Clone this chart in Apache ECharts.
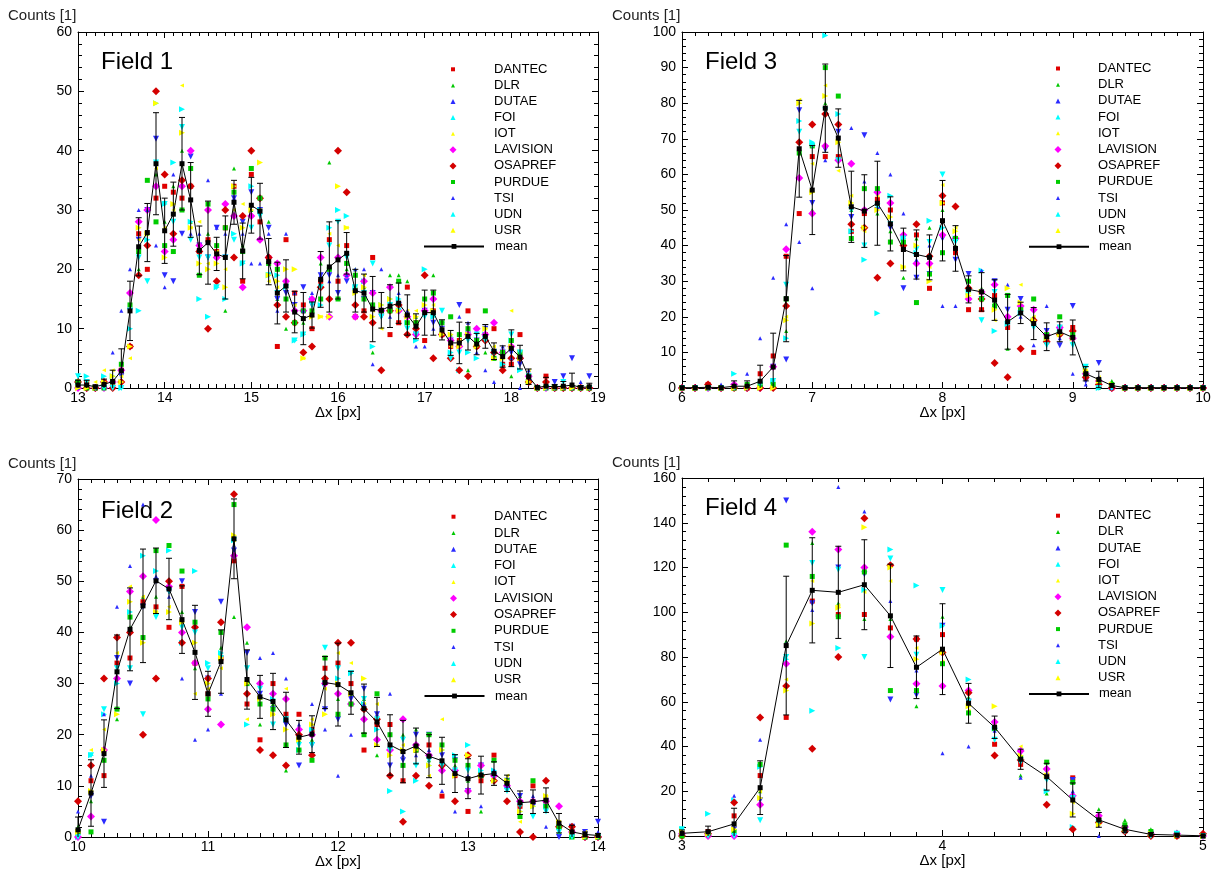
<!DOCTYPE html>
<html><head><meta charset="utf-8">
<script src="https://cdn.jsdelivr.net/npm/echarts@6/dist/echarts.min.js"></script>
<style>html,body{margin:0;padding:0;background:#fff}#c{width:1213px;height:875px}</style>
</head><body><div id="c"></div>
<script>
// ---------------- DATA ----------------
const SERIES = ['DANTEC','DLR','DUTAE','FOI','IOT','LAVISION','OSAPREF','PURDUE','TSI','UDN','USR'];
const MEAN_NAME = 'mean';
const Y_NAME = 'Counts [1]';
const X_NAME = '\u0394x [px]';
const TITLES = ['Field 1','Field 3','Field 2','Field 4'];

// Field 1
const F1_X = [13.0,13.1,13.2,13.3,13.4,13.5,13.6,13.7,13.8,13.9,14.0,14.1,14.2,14.3,14.4,14.5,14.6,14.7,14.8,14.9,
  15.0,15.1,15.2,15.3,15.4,15.5,15.6,15.7,15.8,15.9,16.0,16.1,16.2,16.3,16.4,16.5,16.6,16.7,16.8,16.9,
  17.0,17.1,17.2,17.3,17.4,17.5,17.6,17.7,17.8,17.9,18.0,18.1,18.2,18.3,18.4,18.5,18.6,18.7,18.8,18.9];
const F1_MEAN = [0.5,0.5,0.2,0.6,1.1,2.9,13.0,23.8,26.2,37.8, 26.5,29.3,37.8,31.7,23.2,24.5,22.6,22.0,31.3,23.1,
  30.8,29.8,21.3,16.0,17.2,12.8,11.7,12.3,18.3,20.4, 21.6,22.7,16.4,16.0,13.3,13.1,13.8,14.3,12.3,10.4,
  12.7,12.7,9.8,7.6,7.6,8.7,7.4,8.7,6.2,5.3, 6.7,5.2,1.9,0.1,0.3,0.2,0.3,0.5,0.1,0.2];
const F1_ERR = [0.8,0.8,0.3,0.9,1.9,3.7,5.0,4.9,4.9,8.6, 5.5,5.4,7.8,6.3,4.1,7.0,2.8,7.0,3.7,4.7,
  4.7,4.7,3.9,5.2,4.4,3.5,4.4,2.2,4.7,7.6, 6.6,3.5,3.6,3.2,5.5,3.0,3.6,3.4,3.4,2.1,
  3.8,3.8,1.7,2.1,3.5,2.3,1.8,2.0,1.4,1.8, 3.1,2.0,1.3,0.2,1.5,0.4,0.8,2.0,0.3,0.6];
// rows: one per bin, columns in SERIES order
const F1_COUNTS = [
[1,0,0,1,0,0,1,1,0,2,0],[1,0,0,2,1,0,0,0,1,1,0],[0,0,0,0,1,0,0,0,0,0,0],[1,0,0,2,3,0,1,0,1,0,1],
[1,1,0,2,3,1,0,1,6,0,2],[3,4,2,0,2,3,1,4,13,0,1],[7,14,13,10,5,16,7,14,20,13,7],[26,20,25,13,25,28,19,23,30,22,27],
[20,26,30,25,26,30,24,35,30,18,26],[32,36,42,48,37,34,50,28,24,38,48],[34,28,19,31,27,23,36,24,17,31,22],
[33,34,18,38,30,25,26,23,36,28,31],[32,40,26,47,51,34,35,30,38,44,43],[34,28,39,28,27,40,34,37,26,25,27],
[23,24,24,15,28,24,23,19,26,22,21],[25,26,22,12,21,30,10,31,35,22,20],[23,22,27,17,23,22,18,24,27,17,21],
[27,13,22,15,20,31,30,27,26,22,17],[34,37,32,26,30,29,22,33,32,25,34],[18,24,28,21,31,17,29,23,26,21,27],
[36,30,33,34,29,29,40,37,21,27,30],[28,32,30,30,30,25,32,32,21,29,38],[22,28,27,19,18,22,22,21,26,19,19],
[7,15,15,19,17,21,14,20,13,16,18],[25,10,16,17,18,18,12,15,26,17,20],[16,13,14,8,14,13,11,11,16,8,20],
[14,11,17,9,5,13,6,13,13,9,5],[10,13,14,15,13,15,7,13,16,14,12],[18,21,19,14,12,22,17,15,19,17,12],
[25,38,19,27,26,12,15,20,18,24,12],[18,22,16,30,24,22,40,15,19,28,34],[24,20,18,29,27,19,33,21,19,22,27],
[12,20,16,17,17,12,14,19,20,17,16],[13,17,15,18,19,18,12,15,20,16,17],[22,6,16,7,13,16,11,14,4,21,12],
[13,13,12,14,10,13,3,13,20,12,14],[9,19,13,15,14,17,13,13,12,14,15],[11,19,14,15,13,13,14,18,16,13,13],
[17,18,12,11,13,12,9,11,13,10,12],[11,12,9,8,13,9,10,11,7,9,12],[8,15,13,20,13,13,19,15,7,12,14],
[13,19,11,12,14,15,5,16,10,12,13],[9,10,10,11,10,9,9,11,10,13,9],[7,9,8,6,7,8,5,12,8,5,9],
[8,9,14,3,8,7,3,9,12,6,7],[13,3,9,6,9,9,2,10,11,8,9],[7,8,8,5,8,10,7,8,6,9,7],
[9,6,10,9,10,9,8,13,3,8,10],[10,5,6,6,7,11,6,5,1,6,5],[4,6,6,4,5,6,3,6,7,5,5],
[4,2,6,8,13,7,5,8,5,9,7],[9,5,4,3,6,5,5,6,0,6,5],[2,2,1,1,3,2,1,2,3,2,1],
[0,0,0,0,0,0,0,0,0,0,0],[2,0,0,0,0,0,1,0,0,0,0],[0,0,1,0,0,0,0,0,0,0,0],
[0,0,2,0,0,0,0,0,0,1,0],[0,0,5,0,0,0,0,0,0,0,0],[0,0,0,0,0,0,0,0,1,0,0],[0,0,2,0,0,0,0,0,0,0,0]];

// Field 3
const F3_X = [6.0,6.1,6.2,6.3,6.4,6.5,6.6,6.7,6.8,6.9,7.0,7.1,7.2,7.3,7.4,7.5,7.6,7.7,7.8,7.9,
  8.0,8.1,8.2,8.3,8.4,8.5,8.6,8.7,8.8,8.9,9.0,9.1,9.2,9.3,9.4,9.5,9.6,9.7,9.8,9.9,10.0];
const F3_MEAN = [0.1,0.1,0.2,0.1,0.5,0.5,1.9,5.9,25.1,67.2, 55.6,78.6,70.2,50.9,49.7,51.9,46.1,38.9,37.5,36.7,
  47.0,39.2,27.7,27.0,24.7,18.6,21.1,18.1,14.4,15.8, 14.2,4.0,2.4,0.7,0.1,0.1,0.1,0.1,0.1,0.1,0.1];
const F3_ERR = [0.2,0.2,0.3,0.2,1.5,1.5,4.5,9.5,12.1,13.6, 12.5,12.4,8.2,10.0,10.2,11.8,7.6,6.0,6.9,6.3,
  11.3,6.4,3.8,5.4,5.7,7.7,3.0,4.5,3.9,2.8, 4.9,2.0,2.3,0.5,0.1,0.1,0.1,0.1,0.1,0.1,0.1];
const F3_COUNTS = [
[0,0,0,0,0,0,0,0,0,0,0],[0,0,0,0,0,0,0,0,0,0,0],[1,0,0,0,0,0,1,0,0,0,0],[0,0,0,0,0,0,0,0,1,0,0],
[0,0,0,4,0,1,0,0,0,0,0],[0,0,0,0,0,0,0,1,4,0,0],[4,0,0,0,1,0,0,1,14,1,0],[9,0,6,2,0,6,0,1,31,2,0],
[37,16,8,14,20,39,23,25,46,29,19],[49,66,78,75,81,59,69,66,41,72,80],[65,50,52,69,63,49,74,68,28,68,55],
[65,80,67,99,85,68,77,90,64,78,82],[65,70,72,77,61,64,74,82,70,64,69],[44,50,48,44,54,63,46,42,73,50,52],
[49,50,71,36,44,50,45,56,58,40,45],[53,49,50,21,54,55,31,56,66,51,50],[50,44,45,54,35,52,35,41,60,46,48],
[39,31,28,42,34,43,40,41,49,42,34],[43,42,31,38,46,35,46,24,36,39,40],[28,45,32,47,34,35,37,32,40,41,30],
[52,50,42,45,57,43,54,38,23,60,52],[38,40,36,42,45,42,51,42,23,41,44],[22,28,32,27,27,25,28,30,28,27,26],
[22,28,25,33,25,27,25,25,33,19,27],[26,24,30,16,19,29,7,23,25,27,22],[17,11,22,18,19,20,3,26,29,18,28],
[22,22,25,21,29,23,11,22,20,21,24],[10,20,18,19,20,22,19,25,12,17,19],[13,14,16,14,15,15,13,15,23,12,14],
[17,16,12,16,15,17,15,20,14,17,15],[17,13,23,14,15,14,16,15,4,12,14],[3,5,2,6,5,4,3,4,1,6,5],
[1,0,7,0,3,2,1,2,3,0,2],[0,2,0,0,1,0,0,1,0,0,1],[0,0,0,0,0,0,0,0,0,0,0],[0,0,0,0,0,0,0,0,0,0,0],
[0,0,0,0,0,0,0,0,0,0,0],[0,0,0,0,0,0,0,0,0,0,0],[0,0,0,0,0,0,0,0,0,0,0],[0,0,0,0,0,0,0,0,0,0,0],
[0,0,0,0,0,0,0,0,0,0,0]];

// Field 2
const F2_X = [10.0,10.1,10.2,10.3,10.4,10.5,10.6,10.7,10.8,10.9,11.0,11.1,11.2,11.3,11.4,11.5,11.6,11.7,11.8,11.9,
  12.0,12.1,12.2,12.3,12.4,12.5,12.6,12.7,12.8,12.9,13.0,13.1,13.2,13.3,13.4,13.5,13.6,13.7,13.8,13.9,14.0];
const F2_MEAN = [1.4,8.6,16.3,32.3,40.6,45.2,50.1,48.5,42.5,36.1, 28.0,34.3,58.3,30.8,27.4,26.5,22.9,19.5,20.1,30.2,
  29.8,28.2,25.1,22.5,18.0,16.7,17.8,15.8,14.9,12.4, 11.4,12.1,12.4,10.5,6.7,6.9,7.2,2.7,1.0,0.5,0.3];
const F2_ERR = [2.5,6.5,6.6,7.2,8.1,11.1,6.4,6.0,6.6,9.2, 4.4,6.2,7.8,5.8,4.2,5.5,5.4,3.3,3.6,5.1,
  8.1,4.2,4.8,4.8,5.9,6.1,3.5,4.2,4.6,3.7, 3.9,3.7,2.3,1.6,2.3,2.3,2.4,1.9,1.3,0.5,0.4];
const F2_COUNTS = [
[1,2,1,0,1,0,7,1,5,0,1],[11,7,8,16,17,4,14,1,12,16,9],[12,17,3,24,21,17,31,15,24,25,17],
[34,23,35,30,36,31,39,25,45,33,24],[35,41,30,44,49,48,40,43,53,33,46],[46,47,45,55,47,51,20,39,65,24,38],
[45,47,50,52,44,62,31,56,51,43,44],[41,49,48,56,45,49,50,57,47,48,44],[49,44,50,38,42,40,38,52,31,41,42],
[34,33,44,52,28,34,41,42,19,40,38],[28,25,31,34,29,25,31,27,21,33,30],[35,37,46,36,33,22,42,40,28,35,35],
[54,43,56,58,58,55,67,65,57,58,59],[26,38,36,22,23,41,28,30,31,33,30],[19,22,28,27,26,30,17,26,35,29,27],
[30,26,25,27,24,28,16,25,36,22,24],[24,13,22,23,29,27,14,18,31,23,21],[24,19,14,17,20,21,20,17,22,18,19],
[21,19,18,21,23,20,16,15,26,18,22],[33,35,25,30,29,30,31,35,21,37,24],[34,27,23,31,36,28,38,24,12,33,30],
[30,28,27,32,34,26,38,26,20,32,28],[17,27,29,26,26,23,25,20,26,27,31],[22,16,24,21,26,19,23,28,24,23,18],
[22,18,14,9,20,17,12,20,28,17,16],[11,20,15,5,18,23,3,14,16,19,17],[17,21,20,11,12,18,12,17,16,14,17],
[18,15,20,14,12,16,10,20,17,15,14],[8,14,16,17,23,13,14,18,9,14,17],[12,14,15,16,13,13,7,15,5,13,12],
[5,11,9,18,16,9,16,14,12,13,16],[11,5,14,13,14,14,12,12,6,12,12],[16,13,12,13,12,12,11,15,13,12,11],
[10,10,11,10,12,10,7,11,10,9,11],[6,8,8,5,3,7,1,4,7,6,5],[10,7,6,6,7,7,0,11,8,4,6],
[7,6,7,6,8,7,11,6,2,5,8],[2,1,0,2,3,6,2,2,3,1,3],[1,0,2,0,1,1,2,0,1,0,1],
[0,0,1,0,1,0,0,0,1,0,0],[0,0,3,0,0,0,0,0,1,0,0]];

// Field 4
const F4_X = [3.0,3.1,3.2,3.3,3.4,3.5,3.6,3.7,3.8,3.9,4.0,4.1,4.2,4.3,4.4,4.5,4.6,4.7,4.8,4.9,5.0];
const F4_MEAN = [1.2,1.9,5.4,21.6,85.1,109.8,108.9,112.3,98.4,75.4, 83.5,59.3,48.6,34.3,26.5,16.1,7.2,3.0,0.7,0.4,0.1];
const F4_ERR = [1.5,2.5,7.0,12.0,31.0,23.5,20.6,20.1,23.1,14.0, 20.3,8.9,5.0,4.5,6.0,7.6,3.3,1.5,0.8,0.5,0.2];
const F4_COUNTS = [
[1,0,0,3,1,1,0,0,1,3,2],[2,1,1,10,2,0,1,1,2,0,1],[9,2,3,16,5,0,15,2,18,0,3],
[27,20,16,31,20,14,53,32,43,7,17],[53,87,150,79,70,77,67,130,86,80,65],[105,131,104,56,114,136,39,116,101,122,95],
[99,104,120,84,103,128,80,98,156,119,102],[99,97,117,110,109,120,142,118,145,80,138],[93,97,61,128,114,89,121,65,105,124,120],
[88,58,63,112,84,68,88,65,74,81,79],[90,98,94,94,78,67,82,77,37,110,82],[60,62,60,70,56,65,64,55,40,60,58],
[41,52,47,48,50,51,36,48,47,43,58],[32,27,37,35,40,38,34,35,26,33,36],[27,19,29,20,28,30,14,33,28,25,27],
[26,24,25,4,15,18,3,24,20,17,10],[7,12,5,7,8,9,6,7,0,6,5],[3,7,2,3,3,4,2,5,3,2,3],
[1,3,1,1,0,1,0,2,1,0,1],[0,2,0,1,0,1,0,1,0,1,0],[0,0,0,0,0,0,1,0,0,0,0]];

// ---------------- STYLE / LAYOUT ----------------
const FONT = 'Liberation Sans, Arial, Helvetica, sans-serif';
const STYLE = {
  DANTEC:  {symbol:'rect',     size:5, rot:0,   color:'#e00000'},
  DLR:     {symbol:'triangle', size:4, rot:0,   color:'#00c800'},
  DUTAE:   {symbol:'triangle', size:6, rot:180, color:'#2b2bff'},
  FOI:     {symbol:'triangle', size:6, rot:-90, color:'#00ffff'},
  IOT:     {symbol:'triangle', size:4, rot:90,  color:'#ffff00'},
  LAVISION:{symbol:'diamond',  size:8, rot:0,   color:'#ff00ff'},
  OSAPREF: {symbol:'diamond',  size:8, rot:0,   color:'#d40000'},
  PURDUE:  {symbol:'rect',     size:5, rot:0,   color:'#00cc00'},
  TSI:     {symbol:'triangle', size:4, rot:0,   color:'#2b2bff'},
  UDN:     {symbol:'triangle', size:6, rot:180, color:'#00ffff'},
  USR:     {symbol:'triangle', size:6, rot:-90, color:'#ffff00'}
};

const PANELS = [
  {x:F1_X, mean:F1_MEAN, err:F1_ERR, counts:F1_COUNTS, xmin:13, xmax:19, ymax:60, yint:10,
   grid:{left:78, top:32, width:520, height:356}, leg:{cx:453, tx:494, cy0:69.3, dy:16.1},
   title:[101,50], ylab:[8,8]},
  {x:F3_X, mean:F3_MEAN, err:F3_ERR, counts:F3_COUNTS, xmin:6, xmax:10, ymax:100, yint:10,
   grid:{left:682, top:32, width:521, height:356}, leg:{cx:1058, tx:1098, cy0:68.5, dy:16.2},
   title:[705,50], ylab:[612,8]},
  {x:F2_X, mean:F2_MEAN, err:F2_ERR, counts:F2_COUNTS, xmin:10, xmax:14, ymax:70, yint:10,
   grid:{left:78, top:479, width:520, height:358}, leg:{cx:453.5, tx:494, cy0:516.7, dy:16.3},
   title:[101,499], ylab:[8,456]},
  {x:F4_X, mean:F4_MEAN, err:F4_ERR, counts:F4_COUNTS, xmin:3, xmax:5, ymax:160, yint:20,
   grid:{left:682, top:478, width:521, height:358}, leg:{cx:1058, tx:1098, cy0:515.7, dy:16.2},
   title:[705,496], ylab:[612,455]}
];

function errRender(params, api) {
  const x = api.value(0), m = api.value(1), e = api.value(2);
  const cs = params.coordSys;
  const px = api.coord([x, m])[0];
  const yT = api.coord([x, m + e])[1];
  const yB = api.coord([x, m - e])[1];
  const top = cs.y, bot = cs.y + cs.height, hw = 3;
  const st = {stroke:'#000', lineWidth:1};
  const ch = [{type:'line', shape:{x1:px, y1:Math.max(yT, top), x2:px, y2:Math.min(yB, bot)}, style:st}];
  if (yT >= top) ch.push({type:'line', shape:{x1:px-hw, y1:yT, x2:px+hw, y2:yT}, style:st});
  if (yB <= bot) ch.push({type:'line', shape:{x1:px-hw, y1:yB, x2:px+hw, y2:yB}, style:st});
  return {type:'group', children:ch};
}

const LH = 14; // legend text line height
function legendItem(name, left, cy, w, h, rot, textX) {
  return {left:left, top:cy - LH/2, orient:'vertical', selectedMode:false, padding:0,
    itemWidth:w, itemHeight:h, symbolRotate:rot, data:[name],
    textStyle:{color:'#000', fontSize:13, fontFamily:FONT, lineHeight:LH,
      padding:[0,0,0, Math.max(0, textX - left - w - 5)]}};
}

const grid = [], xAxis = [], yAxis = [], series = [], legend = [], graphic = [];
const lineBlack = {color:'#000', width:1};
PANELS.forEach((p, i) => {
  grid.push(Object.assign({containLabel:false, outerBoundsMode:'none'}, p.grid));
  const xBase = {gridIndex:i, type:'value', min:p.xmin, max:p.xmax, interval:1,
    axisLine:{show:true, onZero:false, lineStyle:lineBlack},
    axisTick:{show:true, inside:true, length:6, lineStyle:lineBlack},
    minorTick:{show:true, splitNumber:10, length:4, lineStyle:lineBlack},
    splitLine:{show:false}};
  xAxis.push(Object.assign({}, xBase, {position:'bottom',
    axisLabel:{show:true, margin:3, color:'#000', fontSize:14, fontFamily:FONT},
    name:X_NAME, nameLocation:'middle', nameGap:17, nameMoveOverlap:false,
    nameTextStyle:{color:'#000', fontSize:15, fontFamily:FONT}}));
  xAxis.push(Object.assign({}, xBase, {position:'top', axisLabel:{show:false}}));
  const yBase = {gridIndex:i, type:'value', min:0, max:p.ymax, interval:p.yint,
    axisLine:{show:true, onZero:false, lineStyle:lineBlack},
    axisTick:{show:true, inside:true, length:6, lineStyle:lineBlack},
    minorTick:{show:true, splitNumber:5, length:4, lineStyle:lineBlack},
    splitLine:{show:false}};
  yAxis.push(Object.assign({}, yBase, {position:'left',
    axisLabel:{show:true, margin:6, color:'#000', fontSize:14, fontFamily:FONT}}));
  yAxis.push(Object.assign({}, yBase, {position:'right', axisLabel:{show:false}}));

  SERIES.forEach((name, j) => {
    const s = STYLE[name];
    series.push({name, type:'scatter', xAxisIndex:2*i, yAxisIndex:2*i,
      symbol:s.symbol, symbolSize:s.size, symbolRotate:s.rot,
      itemStyle:{color:s.color, opacity:1}, z:2,
      data:p.x.map((x, k) => [x, p.counts[k][j]])});
    const sz = Math.max(4, s.size - 1);
    legend.push(legendItem(name, p.leg.cx - sz/2, p.leg.cy0 + j*p.leg.dy, sz, sz, s.rot, p.leg.tx));
  });
  series.push({name:'errbars', type:'custom', xAxisIndex:2*i, yAxisIndex:2*i, z:3,
    renderItem:errRender, encode:{x:0, y:1}, silent:true,
    data:p.x.map((x, k) => [x, p.mean[k], p.err[k]])});
  series.push({name:MEAN_NAME, type:'line', xAxisIndex:2*i, yAxisIndex:2*i, z:4,
    symbol:'rect', symbolSize:5, showSymbol:true, showAllSymbol:true,
    itemStyle:{color:'#000'}, lineStyle:{color:'#000', width:1},
    data:p.x.map((x, k) => [x, p.mean[k]])});
  legend.push(legendItem(MEAN_NAME, p.leg.cx - 30, p.leg.cy0 + 11*p.leg.dy, 60, 6, 0, p.leg.tx));

  graphic.push({type:'text', left:p.title[0], top:p.title[1],
    style:{text:TITLES[i], fontSize:24, fontFamily:FONT, fill:'#000'}});
  graphic.push({type:'text', left:p.ylab[0], top:p.ylab[1],
    style:{text:Y_NAME, fontSize:15, fontFamily:FONT, fill:'#222'}});
});

const chart = echarts.init(document.getElementById('c'), null, {renderer:'canvas'});
chart.setOption({animation:false, backgroundColor:'#fff', grid, xAxis, yAxis, series, legend, graphic});
</script>
</body></html>
